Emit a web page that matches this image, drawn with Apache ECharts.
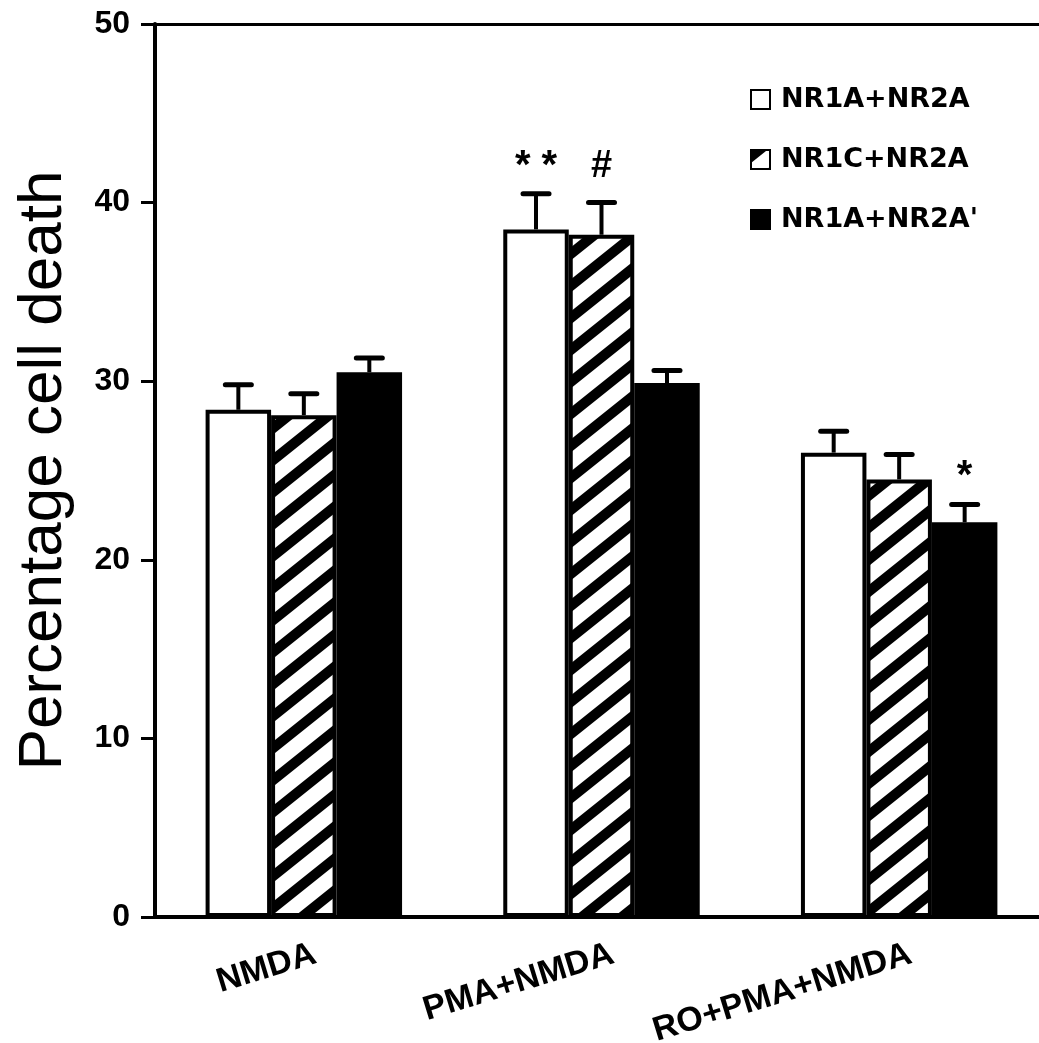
<!DOCTYPE html>
<html>
<head>
<meta charset="utf-8">
<script src="https://cdn.jsdelivr.net/npm/echarts@6/dist/echarts.min.js"></script>
<style>
  html, body { margin: 0; padding: 0; background: #fff; }
  #chart { width: 1039px; height: 1043px; }
</style>
</head>
<body>
<div id="chart"></div>
<script>
// Treatment groups along the x axis
const categories = ['NMDA', 'PMA+NMDA', 'RO+PMA+NMDA'];
// Receptor combinations (one bar per group each)
const seriesNames = ['NR1A+NR2A', 'NR1C+NR2A', "NR1A+NR2A'"];
// Mean percentage cell death
const nr1aNr2a = [28.4, 38.5, 26.0];
const nr1cNr2a = [28.1, 38.2, 24.5];
const nr1aNr2aPrime = [30.5, 29.9, 22.1];
// Standard errors (upper bars only)
const nr1aNr2aErr = [1.4, 2.0, 1.2];
const nr1cNr2aErr = [1.2, 1.8, 1.4];
const nr1aNr2aPrimeErr = [0.8, 0.7, 1.0];
// Significance marks above the error bars
const nr1aNr2aMarks = ['', '* *', ''];
const nr1cNr2aMarks = ['', '#', ''];
const nr1aNr2aPrimeMarks = ['', '', '*'];
// Y axis scale
const yMin = 0, yMax = 50, yStep = 10;

const BAR_FRAC = 0.22;

// Diagonal hatching tile for the NR1C+NR2A bars
function makeHatch() {
  const W = 40, H = 32, band = 13, s = H / W;
  const c = document.createElement('canvas');
  c.width = W; c.height = H;
  const g = c.getContext('2d');
  g.fillStyle = '#fff';
  g.fillRect(0, 0, W, H);
  g.fillStyle = '#000';
  for (let k = -2; k <= 3; k++) {
    const y0 = H + k * H;
    g.beginPath();
    g.moveTo(-W, y0 + s * W);
    g.lineTo(2 * W, y0 - 2 * s * W);
    g.lineTo(2 * W, y0 - 2 * s * W + band);
    g.lineTo(-W, y0 + s * W + band);
    g.closePath();
    g.fill();
  }
  return c;
}
const hatch = { image: makeHatch(), repeat: 'repeat' };

const fills = ['#ffffff', hatch, '#000000'];
const values = [nr1aNr2a, nr1cNr2a, nr1aNr2aPrime];
const errors = [nr1aNr2aErr, nr1cNr2aErr, nr1aNr2aPrimeErr];
const marks = [nr1aNr2aMarks, nr1cNr2aMarks, nr1aNr2aPrimeMarks];

function barSeries(i) {
  return {
    name: seriesNames[i],
    type: 'bar',
    barWidth: (BAR_FRAC * 100) + '%',
    barGap: '0%',
    data: values[i],
    itemStyle: { color: fills[i], borderColor: '#000', borderWidth: 4 },
    emphasis: { disabled: true },
    z: 2
  };
}

function errorSeries(i) {
  const data = values[i].map((v, j) => [j, v, errors[i][j]]);
  return {
    type: 'custom',
    data: data,
    z: 5,
    silent: true,
    renderItem: function (params, api) {
      const cat = api.value(0), top = api.value(1), err = api.value(2);
      const band = api.size([1, 0])[0];
      const dx = (i - 1) * band * BAR_FRAC;
      const p0 = api.coord([cat, top]);
      const p1 = api.coord([cat, top + err]);
      const x = p0[0] + dx;
      const capHalf = 13;
      const children = [
        { type: 'line', shape: { x1: x, y1: p0[1], x2: x, y2: p1[1] },
          style: { stroke: '#000', lineWidth: 4 } },
        { type: 'line', shape: { x1: x - capHalf, y1: p1[1], x2: x + capHalf, y2: p1[1] },
          style: { stroke: '#000', lineWidth: 5, lineCap: 'round' } }
      ];
      const m = marks[i][params.dataIndex];
      if (m) {
        const isStar = m.indexOf('*') >= 0;
        children.push({
          type: 'text',
          style: {
            x: x, y: p1[1] - (isStar ? 27 : 36),
            text: m, fill: '#000',
            font: 'bold ' + (isStar ? 40 : 38) + 'px "Liberation Sans", Arial, sans-serif',
            align: 'center', verticalAlign: 'middle'
          }
        });
      }
      return { type: 'group', children: children };
    }
  };
}

const chart = echarts.init(document.getElementById('chart'), null, { renderer: 'canvas' });
chart.setOption({
  backgroundColor: '#fff',
  animation: false,
  grid: {
    left: 155, top: 24, bottom: 126, width: 893,
    containLabel: false,
    outerBoundsMode: 'none'
  },
  legend: {
    data: seriesNames,
    orient: 'vertical',
    left: 750,
    top: 86,
    padding: 0,
    itemWidth: 19,
    itemHeight: 19,
    itemGap: 33,
    icon: 'rect',
    textStyle: {
      fontFamily: '"DejaVu Sans", sans-serif',
      fontWeight: 'bold',
      fontSize: 27,
      color: '#000',
      padding: [0, 0, 0, 6]
    }
  },
  xAxis: [{
    type: 'category',
    data: categories,
    position: 'bottom',
    axisLine: { lineStyle: { color: '#000', width: 4 } },
    axisTick: { inside: true, length: 9, lineStyle: { color: '#000', width: 3 } },
    axisLabel: {
      rotate: 17,
      margin: 40,
      color: '#000',
      fontFamily: '"Liberation Sans", Arial, sans-serif',
      fontWeight: 'bold',
      fontSize: 34,
      padding: [0, -12, 0, 0]
    }
  }, {
    type: 'category',
    data: categories,
    position: 'top',
    axisLine: { lineStyle: { color: '#000', width: 3 } },
    axisTick: { show: false },
    axisLabel: { show: false }
  }],
  yAxis: {
    type: 'value',
    min: yMin,
    max: yMax,
    interval: yStep,
    name: 'Percentage cell death',
    nameLocation: 'middle',
    nameRotate: 90,
    nameGap: 80,
    nameTextStyle: {
      fontFamily: '"Liberation Sans", Arial, sans-serif',
      fontSize: 62,
      color: '#000'
    },
    axisLine: { show: true, lineStyle: { color: '#000', width: 4 } },
    axisTick: { show: true, length: 14, lineStyle: { color: '#000', width: 3 } },
    axisLabel: {
      margin: 25,
      color: '#000',
      fontFamily: '"Liberation Sans", Arial, sans-serif',
      fontWeight: 'bold',
      fontSize: 32
    },
    splitLine: { show: false }
  },
  series: [barSeries(0), barSeries(1), barSeries(2), errorSeries(0), errorSeries(1), errorSeries(2)]
});
</script>
</body>
</html>
